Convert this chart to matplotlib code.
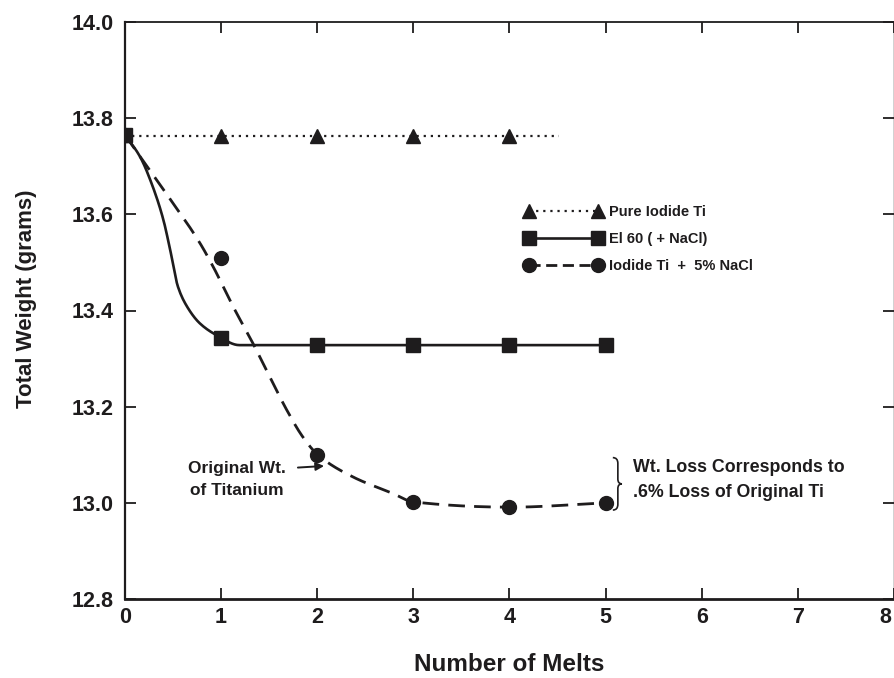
import numpy as np
import matplotlib
matplotlib.use("Agg")
import matplotlib.pyplot as plt
import matplotlib.transforms as mtransforms
from matplotlib.lines import Line2D
from matplotlib.legend_handler import HandlerLine2D
from matplotlib.path import Path
from matplotlib.patches import PathPatch

plt.rcParams['font.family'] = ['Liberation Sans', 'DejaVu Sans']
plt.rcParams['font.weight'] = 'bold'

# ---------------- data ----------------
melts = [0, 1, 2, 3, 4, 5]
pure_melts = [0, 1, 2, 3, 4]
pure_iodide = [13.765, 13.762, 13.762, 13.762, 13.762]
el60 = [13.765, 13.342, 13.328, 13.328, 13.328, 13.328]
iodide_nacl = [13.765, 13.51, 13.10, 13.002, 12.991, 13.000]

# hand-drawn curves
pure_line_x = [0, 4.52]
pure_line_y = [13.762, 13.762]
el60_curve_x = [0, 0.156, 0.29, 0.40, 0.47, 0.55, 0.64, 0.78, 0.95, 1.19, 5.0]
el60_curve_y = [13.765, 13.72, 13.657, 13.588, 13.526, 13.45, 13.41, 13.373, 13.349, 13.328, 13.328]
nacl_curve_x = [0, 0.087, 0.43, 0.78, 0.92, 1.125, 1.33, 1.506, 1.683, 1.85, 2.005, 2.37, 2.78, 3.0, 4.02, 5.0]
nacl_curve_y = [13.765, 13.74, 13.643, 13.54, 13.49, 13.408, 13.332, 13.262, 13.193, 13.137, 13.10, 13.054, 13.02, 13.002, 12.991, 13.0]

labels = ["Pure Iodide Ti", "El 60 ( + NaCl)", "Iodide Ti  +  5% NaCl"]
x_ticks = [0, 1, 2, 3, 4, 5, 6, 7, 8]
y_ticks = [12.8, 13.0, 13.2, 13.4, 13.6, 13.8, 14.0]


def monotone_cubic(x, y, n=400):
    x = np.asarray(x, float)
    y = np.asarray(y, float)
    h = np.diff(x)
    d = np.diff(y) / h
    m = np.zeros_like(y)
    m[0], m[-1] = d[0], d[-1]
    for k in range(1, len(x) - 1):
        if d[k - 1] * d[k] <= 0:
            m[k] = 0.0
        else:
            w1 = 2 * h[k] + h[k - 1]
            w2 = h[k] + 2 * h[k - 1]
            m[k] = (w1 + w2) / (w1 / d[k - 1] + w2 / d[k])
    xn = np.linspace(x[0], x[-1], n)
    i = np.clip(np.searchsorted(x, xn) - 1, 0, len(h) - 1)
    t = (xn - x[i]) / h[i]
    h00 = 2 * t**3 - 3 * t**2 + 1
    h10 = t**3 - 2 * t**2 + t
    h01 = -2 * t**3 + 3 * t**2
    h11 = t**3 - t**2
    yn = h00 * y[i] + h10 * h[i] * m[i] + h01 * y[i + 1] + h11 * h[i] * m[i + 1]
    return xn, yn


ink = '#1e1c1d'
fig = plt.figure(figsize=(8.95, 6.78), dpi=100)
ax = fig.add_axes([125 / 895, 1 - 599 / 678, 769 / 895, 577 / 678])

# lines
ax.plot(pure_line_x, pure_line_y, color=ink, lw=1.6, linestyle=(0, (1, 2.2)), zorder=2)
cx, cy = monotone_cubic(el60_curve_x, el60_curve_y)
ax.plot(cx, cy, color=ink, lw=1.9, zorder=2, solid_capstyle='round')
dx, dy = monotone_cubic(nacl_curve_x, nacl_curve_y)
ax.plot(dx, dy, color=ink, lw=2.0, linestyle=(0, (6.0, 3.3)), zorder=2)

# markers
ax.plot(pure_melts, pure_iodide, linestyle='none', marker='^', ms=9.5, color=ink, zorder=4)
ax.plot(melts, el60, linestyle='none', marker='s', ms=10.5, color=ink, zorder=4)
ax.plot(melts, iodide_nacl, linestyle='none', marker='o', ms=10, color=ink, zorder=5)

# axes styling
ax.set_xlim(0, 8)
ax.set_ylim(12.8, 14.0)
ax.set_xticks(x_ticks)
ax.set_yticks(y_ticks)
ax.set_xticklabels([str(v) for v in x_ticks])
ax.set_yticklabels([f"{v:.1f}" for v in y_ticks])
ax.tick_params(axis='both', direction='in', length=8, width=1.3, colors=ink,
               labelsize=15.5, top=True, right=True)
ax.tick_params(axis='y', pad=8)
ax.tick_params(axis='x', pad=6)
for lab in ax.get_xticklabels() + ax.get_yticklabels():
    lab.set_fontweight('bold')
# last x label sits at the picture's edge: nudge it inward
last = ax.get_xticklabels()[-1]
last.set_transform(last.get_transform() + mtransforms.ScaledTranslation(-9 / 100, 0, fig.dpi_scale_trans))
for side, lw in [('left', 1.6), ('bottom', 2.0), ('top', 1.3), ('right', 1.0)]:
    ax.spines[side].set_linewidth(lw)
    ax.spines[side].set_color(ink)

ax.set_xlabel("Number of Melts", fontsize=17.5, fontweight='bold', color=ink)
ax.xaxis.label.set_va('center')
ax.xaxis.set_label_coords(0.5, -0.114)
ax.set_ylabel("Total Weight (grams)", fontsize=16, fontweight='bold', color=ink)
ax.yaxis.label.set_va('center')
ax.yaxis.set_label_coords(-0.128, 0.52)

# legend
h1 = Line2D([], [], color=ink, lw=1.6, linestyle=(0, (1, 2.2)), marker='^', ms=9.5)
h2 = Line2D([], [], color=ink, lw=1.9, marker='s', ms=10.5)
h3 = Line2D([], [], color=ink, lw=2.0, linestyle=(0, (4.0, 2.0)), marker='o', ms=10)
leg = ax.legend([h1, h2, h3], labels, numpoints=2, frameon=False, fontsize=10.5,
                handlelength=4.7, handletextpad=0.75, labelspacing=0.88, borderpad=0,
                loc='upper left', bbox_to_anchor=(522 / 895, 1 - 198 / 678),
                bbox_transform=fig.transFigure,
                handler_map={Line2D: HandlerLine2D(marker_pad=0)})
for t in leg.get_texts():
    t.set_fontweight('bold')
    t.set_color(ink)

# annotation: original weight
ax.annotate("", xy=(2.10, 13.077), xytext=(1.77, 13.073),
            arrowprops=dict(arrowstyle='-|>', color=ink, lw=1.4, mutation_scale=12))
ax.text(1.165, 13.048, "Original Wt.\nof Titanium", ha='center', va='center',
        fontsize=12.5, fontweight='bold', color=ink, linespacing=1.55)

# brace
bx0, bw = 5.075, 0.095
ytop, ybot = 13.094, 12.985
ymid = (ytop + ybot) / 2
verts = [(bx0, ytop), (bx0 + bw * 0.55, ytop), (bx0 + bw * 0.55, ytop - 0.012),
         (bx0 + bw * 0.55, ymid + 0.010), (bx0 + bw * 0.55, ymid), (bx0 + bw, ymid),
         (bx0 + bw * 0.55, ymid), (bx0 + bw * 0.55, ymid - 0.010),
         (bx0 + bw * 0.55, ybot + 0.012), (bx0 + bw * 0.55, ybot), (bx0, ybot)]
codes = [Path.MOVETO, Path.CURVE3, Path.CURVE3, Path.LINETO, Path.CURVE3, Path.CURVE3,
         Path.CURVE3, Path.CURVE3, Path.LINETO, Path.CURVE3, Path.CURVE3]
ax.add_patch(PathPatch(Path(verts, codes), facecolor='none', edgecolor=ink, lw=1.2))
ax.text(5.28, 13.047, "Wt. Loss Corresponds to\n.6% Loss of Original Ti", ha='left', va='center',
        fontsize=12.8, fontweight='bold', color=ink, linespacing=1.6)

fig.savefig("out.png", dpi=100)
